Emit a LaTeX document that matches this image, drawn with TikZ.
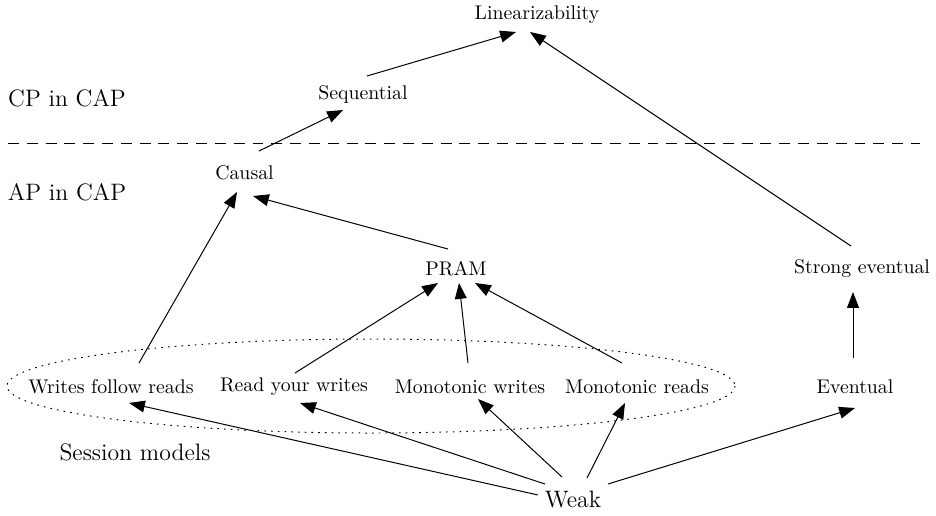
\documentclass[tikz,border=0pt]{standalone}
\usetikzlibrary{arrows.meta,calc}
\begin{document}
\begin{tikzpicture}[x=0.505pt,y=-0.505pt,
  every node/.style={inner sep=0pt},
  model/.style={font=\normalsize},
  biglabel/.style={font=\large},
  arr/.style={-{Triangle[length=8pt,width=6pt]},line width=0.5pt},
  sepline/.style={dash pattern=on 5.5pt off 4pt,line width=0.5pt},
  group/.style={dash pattern=on 0.8pt off 2.6pt,line width=0.5pt}]
\useasboundingbox (0,0) rectangle (936,515);
% labels
\node[biglabel] (cp) at (67,98) {CP in CAP};
\node[biglabel] (ap) at (67,192) {AP in CAP};
\node[biglabel] (sm) at (135,452) {Session models};
% separator
\coordinate (sepL) at (8,143);
\coordinate (sepR) at (920,143);
\draw[sepline] (sepL) -- (sepR);
% session ellipse
\coordinate (ellc) at (371,386);
\draw[group] (ellc) ellipse [x radius=364, y radius=47];
% models
\node[model] (lin) at (537,15) {Linearizability};
\node[model] (seq) at (363,94) {Sequential};
\node[model] (cau) at (244.5,173) {Causal};
\node[model] (pram) at (456,269) {PRAM};
\node[model] (se) at (862,269) {Strong eventual};
\node[model] (wfr) at (111,387) {Writes follow reads};
\node[model] (ryw) at (294,387) {Read your writes};
\node[model] (mw) at (470,387) {Monotonic writes};
\node[model] (mr) at (637,387) {Monotonic reads};
\node[model] (ev) at (855,387) {Eventual};
\node[font=\large] (weak) at (573,499) {Weak};
% edges
\draw[arr] ($(seq)+(4,-18)$) -- ($(lin)+(-21,17)$);
\draw[arr] ($(se)+(-11,-23)$) -- ($(lin)+(-7,17)$);
\draw[arr] ($(cau)+(14.5,-22)$) -- ($(seq)+(-20,16)$);
\draw[arr] ($(pram)+(-8,-20)$) -- ($(cau)+(8.5,23)$);
\draw[arr] ($(wfr)+(28,-24)$) -- ($(cau)+(-7.5,19)$);
\draw[arr] ($(ryw)+(1,-14)$) -- ($(pram)+(-18,14)$);
\draw[arr] ($(mw)+(-2,-24)$) -- ($(pram)+(3,14)$);
\draw[arr] ($(mr)+(-15,-24)$) -- ($(pram)+(19,14)$);
\draw[arr] ($(ev)+(-2,-29)$) -- ($(se)+(-9,23)$);
\draw[arr] ($(weak)+(-35,-4)$) -- ($(wfr)+(18,16)$);
\draw[arr] ($(weak)+(-28,-15)$) -- ($(ryw)+(6,16)$);
\draw[arr] ($(weak)+(-11,-22)$) -- ($(mw)+(8,12)$);
\draw[arr] ($(weak)+(14,-21)$) -- ($(mr)+(-12,16)$);
\draw[arr] ($(weak)+(35,-15)$) -- ($(ev)+(0,21)$);
\end{tikzpicture}
\end{document}
